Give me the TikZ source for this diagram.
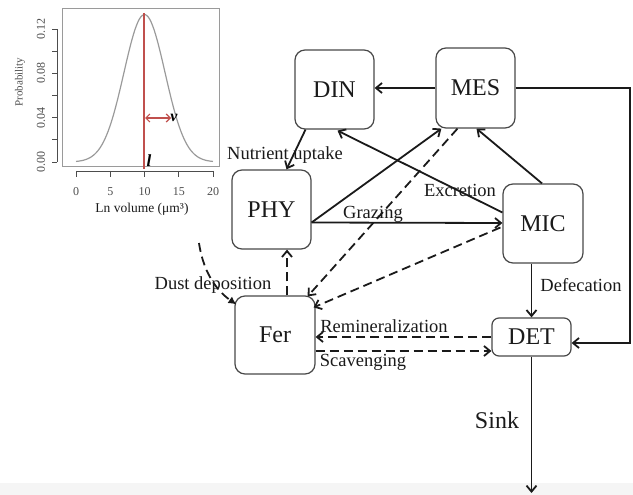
\documentclass[tikz,border=0pt]{standalone}
\usepackage{fontspec}
\setmainfont{Liberation Serif}
\usetikzlibrary{arrows.meta,calc}
\definecolor{ink}{HTML}{1A1A1A}
\definecolor{axg}{HTML}{4D4D4D}
\definecolor{crv}{HTML}{9A9A9A}
\definecolor{mred}{HTML}{C0504D}
\tikzset{
  pool/.style={draw=ink!80,line width=1.2pt,rounded corners=10pt,minimum width=79pt,minimum height=79pt,inner sep=0pt,font=\fontsize{24}{28}\selectfont,text=ink},
  lab/.style={font=\fontsize{18.5}{22}\selectfont,text=ink,inner sep=0pt},
  ar/.style={-{Straight Barb[length=6pt,width=10pt]},line width=1.8pt,draw=ink},
  dar/.style={ar,dash pattern=on 9pt off 5pt},
  tk/.style={font=\fontsize{12}{14}\selectfont,text=axg,inner sep=0pt},
}

\begin{document}
\begin{tikzpicture}[x=1pt,y=-1pt]
\useasboundingbox (0,0) rectangle (633,495);
\fill[black!4] (0,483) rectangle (633,495);

% size distribution inset
\draw[crv,line width=1pt] (62,9) rectangle (219,167);
\draw[axg,line width=0.9pt] (76,171) -- (213,171);
\foreach \v in {0,5,10,15,20}
  \draw[axg,line width=0.9pt] ({76+6.85*\v},171) -- ++(0,6) node[tk,below=15pt,anchor=center] {\v};
\draw[axg,line width=0.9pt] (57,162) -- (57,29);
\foreach \p/\t in {0/0.00,2/,4/0.04,6/,8/0.08,10/,12/0.12}
  \draw[axg,line width=0.9pt] (57,{162-11.08*\p}) -- ++(-5,0) node[tk,rotate=90,above=11pt,anchor=center] {\t};
\node[tk,font=\fontsize{11}{12}\selectfont,rotate=90] (ylab) at (20,82) {Probability};
\node[tk,font=\fontsize{13.5}{16}\selectfont,text=ink] (xlab) at (142,209) {Ln volume (μm³)};
\draw[crv,line width=1.2pt,domain=0:20,samples=90] plot ({76+6.85*\x},{162-147.4*exp(-(\x-10)^2/18)});
\draw[mred,line width=1.2pt] (144,13) -- (144,169);
\draw[mred,line width=1.2pt,{Straight Barb[length=4pt,width=8pt]}-{Straight Barb[length=4pt,width=8pt]}] (145,118) -- (171,118);
\node[inner sep=0pt,font=\fontsize{16}{17}\selectfont] (vv) at (174,118) {\textbf{\textit{v}}};
\node[inner sep=0pt,font=\fontsize{17}{18}\selectfont] (ll) at (149,161) {\textbf{\textit{l}}};

% compartments
\node[pool] (din) at (334.5,89.5) {DIN};
\node[pool,minimum height=80pt] (mes) at (475.5,88) {MES};
\node[pool] (phy) at (271.5,209.5) {PHY};
\node[pool,minimum width=80pt] (mic) at (543,223.5) {MIC};
\node[pool,minimum width=80pt,minimum height=78pt] (fer) at (275,335) {Fer};
\node[pool,minimum height=38pt,rounded corners=7pt] (det) at (531.5,337) {DET};

% fluxes
\draw[ar] (mes.west) -- (mes.west -| din.east);
\draw[ar] ($(din.south)+(-29,0)$) -- ($(phy.north)+(15,0)$);
\draw[ar] ($(mic.west)+(0,-11)$) -- ($(din.south)+(3,1)$);
\draw[ar] ($(mic.north)+(-1,0)$) -- ($(mes.south)+(1,0)$);
\draw[ar] ($(phy.east)+(0,13)$) -- ($(mes.south west)+(6,0)$);
\draw[ar] ($(phy.east)+(0,13)$) -- ($(mic.west)+(0,-0.5)$);
\draw[dar] ($(mes.south)+(-18,0)$) -- ($(fer.north east)+(-8,1)$);
\draw[dar] ($(mic.west)+(-2,4)$) -- ($(fer.north east)+(-2,12)$);
\draw[dar] ($(fer.north)+(12,0)$) -- ($(phy.south)+(15.5,0)$);
\coordinate (dust) at (199,243);
\draw[line width=1.8pt,draw=ink,dash pattern=on 9pt off 5pt,-{Latex[length=8pt,width=8pt]}] (dust) .. controls +(5,34) and +(-16,-11) .. ($(fer.north west)+(2,9)$);
\draw[dar] (det.west) -- (det.west -| fer.east);
\draw[dar] ($(fer.east)+(0,16)$) -- ($(det.west)+(0,14)$);
\draw[ar] (det.north |- mic.south) -- (det.north);
\draw[ar] (mes.east) -- ++(114,0) |- ($(det.east)+(0,6)$);
\coordinate (sinkend) at (531.5,493);
\draw[ar] (det.south) -- (sinkend);

% flux labels
\node[lab] (lnut) at (285,155) {Nutrient uptake};
\node[lab] (lexc) at (460,190) {Excretion};
\node[lab] (lgra) at (373,214) {Grazing};
\node[lab] (ldus) at (213,285) {Dust deposition};
\node[lab] (ldef) at (581,285) {Defecation};
\node[lab] (lrem) at (384,326) {Remineralization};
\node[lab] (lsca) at (363,362) {Scavenging};
\node[lab,font=\fontsize{24}{28}\selectfont] (lsin) at (497,420) {Sink};
\end{tikzpicture}
\end{document}
